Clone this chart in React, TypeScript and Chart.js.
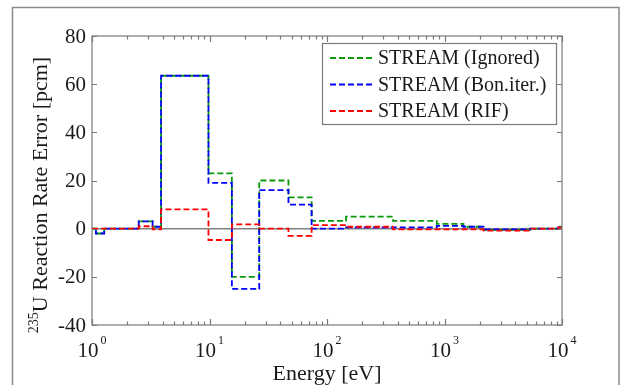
import React, { useEffect, useRef } from 'react';
import { Chart, registerables } from 'chart.js';

Chart.register(...registerables);

// ---- data ----
const energyBounds = [1, 1.08, 1.27, 2.5, 3.28, 3.87, 9.8, 15.5, 26.5, 47, 74, 145, 365, 860, 1450, 2150, 5340, 9300, 10000];
const ignoredErr = [0, -2, 0, 3, 0.8, 63.5, 23, -20, 20, 13, 3.2, 5, 3.2, 2, 0.8, -0.5, 0, 0.8];
const bonIterErr = [0, -2, 0, 3, 0.8, 63.5, 19, -25, 16, 10, 0, 0.5, 0.5, 1.2, 0.8, -0.3, 0, 0.5];
const rifErr = [0, 0, 0, 1, -0.3, 8, -4.7, 1.8, 0, -3, 1.5, 0.8, -0.3, -0.3, -0.3, -0.8, 0, 0.5];
const seriesLabels = ['STREAM (Ignored)', 'STREAM (Bon.iter.)', 'STREAM (RIF)'];
const seriesColors = ['#0a9a0a', '#0000ff', '#ff0000'];
const yTickValues = [-40, -20, 0, 20, 40, 60, 80];
const xDecades = [1, 10, 100, 1000, 10000];
const xExponents = ['0', '1', '2', '3', '4'];
const xTitle = 'Energy [eV]';
const yTitleSup = '235';
const yTitleMain = 'U Reaction Rate Error [pcm]';

const FONT = '"Liberation Serif", "Times New Roman", serif';
const TEXT = '#1a1a1a';
const AXIS = '#7a7a7a';

function stepPoints(vals: number[]) {
  return energyBounds.map((b, i) => ({ x: b, y: vals[Math.min(i, vals.length - 1)] }));
}

const decorPlugin = {
  id: 'decor',
  afterDraw(chart: any) {
    const ctx = chart.ctx as CanvasRenderingContext2D;
    const { left, right, top, bottom } = chart.chartArea;
    const xs = chart.scales.x;
    const ys = chart.scales.y;
    ctx.save();

    // outer figure frame
    ctx.strokeStyle = '#8a8a8a';
    ctx.lineWidth = 1.5;
    ctx.strokeRect(12.5, 7.5, 606.5, 400);

    // plot box
    ctx.strokeStyle = AXIS;
    ctx.lineWidth = 1.2;
    ctx.strokeRect(left, top, right - left, bottom - top);

    // y ticks (inside, both sides)
    ctx.beginPath();
    ys.ticks.forEach((t: any) => {
      const py = Math.round(ys.getPixelForValue(t.value)) + 0.5;
      ctx.moveTo(left, py); ctx.lineTo(left + 5, py);
      ctx.moveTo(right, py); ctx.lineTo(right - 5, py);
    });
    // x ticks (inside, top and bottom)
    xs.ticks.forEach((t: any) => {
      const px = Math.round(xs.getPixelForValue(t.value)) + 0.5;
      const len = t.major ? 6 : 3.5;
      ctx.moveTo(px, bottom); ctx.lineTo(px, bottom - len);
      ctx.moveTo(px, top); ctx.lineTo(px, top + len);
    });
    ctx.stroke();

    // y tick labels
    ctx.fillStyle = TEXT;
    ctx.font = `21px ${FONT}`;
    ctx.textAlign = 'right';
    ctx.textBaseline = 'middle';
    ys.ticks.forEach((t: any) => {
      ctx.fillText(String(t.value), left - 6, ys.getPixelForValue(t.value) + 1);
    });

    // x tick labels: 10^n
    ctx.textBaseline = 'alphabetic';
    ctx.textAlign = 'left';
    xDecades.forEach((d, i) => {
      const px = xs.getPixelForValue(d);
      ctx.font = `21px ${FONT}`;
      const wBase = ctx.measureText('10').width;
      ctx.font = `12px ${FONT}`;
      const wExp = ctx.measureText(xExponents[i]).width;
      const start = px - (wBase + wExp + 2) / 2;
      ctx.font = `21px ${FONT}`;
      ctx.fillText('10', start, 357);
      ctx.font = `12px ${FONT}`;
      ctx.fillText(xExponents[i], start + wBase + 2, 344);
    });

    // x title
    ctx.font = `22px ${FONT}`;
    ctx.textAlign = 'center';
    ctx.fillText(xTitle, (left + right) / 2, 380);

    // y title (rotated, with superscript)
    ctx.save();
    ctx.translate(47, 195);
    ctx.rotate(-Math.PI / 2);
    ctx.textAlign = 'left';
    ctx.font = `14px ${FONT}`;
    const wSup = ctx.measureText(yTitleSup).width;
    ctx.font = `22px ${FONT}`;
    const wMain = ctx.measureText(yTitleMain).width;
    const s = -(wSup + wMain) / 2;
    ctx.font = `14px ${FONT}`;
    ctx.fillText(yTitleSup, s, -9);
    ctx.font = `22px ${FONT}`;
    ctx.fillText(yTitleMain, s + wSup, 0);
    ctx.restore();

    // legend
    const lx = 322, ly = 43, lw = 234, lh = 81;
    ctx.fillStyle = '#ffffff';
    ctx.fillRect(lx, ly, lw, lh);
    ctx.strokeStyle = AXIS;
    ctx.lineWidth = 1.2;
    ctx.strokeRect(lx + 0.5, ly + 0.5, lw, lh);
    chart.data.datasets.forEach((ds: any, i: number) => {
      const ry = ly + 15 + i * 26.5;
      ctx.strokeStyle = ds.borderColor;
      ctx.lineWidth = 2;
      ctx.setLineDash([6, 3]);
      ctx.beginPath();
      ctx.moveTo(330, ry); ctx.lineTo(372, ry);
      ctx.stroke();
      ctx.setLineDash([]);
      ctx.fillStyle = TEXT;
      ctx.font = `20px ${FONT}`;
      ctx.textAlign = 'left';
      ctx.textBaseline = 'middle';
      ctx.fillText(ds.label, 378, ry + 1);
    });

    ctx.restore();
  },
};

export default function App() {
  const ref = useRef<HTMLCanvasElement>(null);

  useEffect(() => {
    if (!ref.current) return;
    const mk = (i: number, vals: number[], order: number, offset: number) => ({
      label: seriesLabels[i],
      data: stepPoints(vals),
      borderColor: seriesColors[i],
      backgroundColor: seriesColors[i],
      borderWidth: 1.8,
      borderDash: [6, 3],
      borderDashOffset: offset,
      stepped: true,
      pointRadius: 0,
      fill: false,
      order,
    });
    const chart = new Chart(ref.current, {
      type: 'line',
      data: {
        datasets: [
          mk(0, ignoredErr, 2, 0),
          mk(1, bonIterErr, 1, 4.5),
          mk(2, rifErr, 0, 0),
        ],
      },
      options: {
        animation: false,
        responsive: false,
        devicePixelRatio: 1,
        layout: { padding: { left: 92, top: 36, right: 59, bottom: 60 } },
        plugins: { legend: { display: false }, tooltip: { enabled: false } },
        scales: {
          x: {
            type: 'logarithmic',
            min: 1,
            max: 10000,
            ticks: { display: false, autoSkip: false },
            grid: { display: false, drawTicks: false },
            border: { display: false },
            afterBuildTicks: (scale: any) => {
              const t: any[] = [];
              xDecades.forEach((d, i) => {
                t.push({ value: d, major: true });
                if (i < xDecades.length - 1) {
                  for (let k = 2; k <= 9; k++) t.push({ value: k * d, major: false });
                }
              });
              scale.ticks = t;
            },
          },
          y: {
            type: 'linear',
            min: -40,
            max: 80,
            ticks: { display: false, autoSkip: false },
            grid: {
              drawTicks: false,
              lineWidth: 1.5,
              color: (c: any) => (c.tick && c.tick.value === 0 ? '#808080' : 'rgba(0,0,0,0)'),
            },
            border: { display: false },
            afterBuildTicks: (scale: any) => {
              scale.ticks = yTickValues.map((v) => ({ value: v }));
            },
          },
        },
      },
      plugins: [decorPlugin],
    });
    return () => chart.destroy();
  }, []);

  return (
    <div style={{ position: 'fixed', left: 0, top: 0, width: 621, height: 385, background: '#fff' }}>
      <canvas ref={ref} width={621} height={385} style={{ display: 'block' }} />
    </div>
  );
}
